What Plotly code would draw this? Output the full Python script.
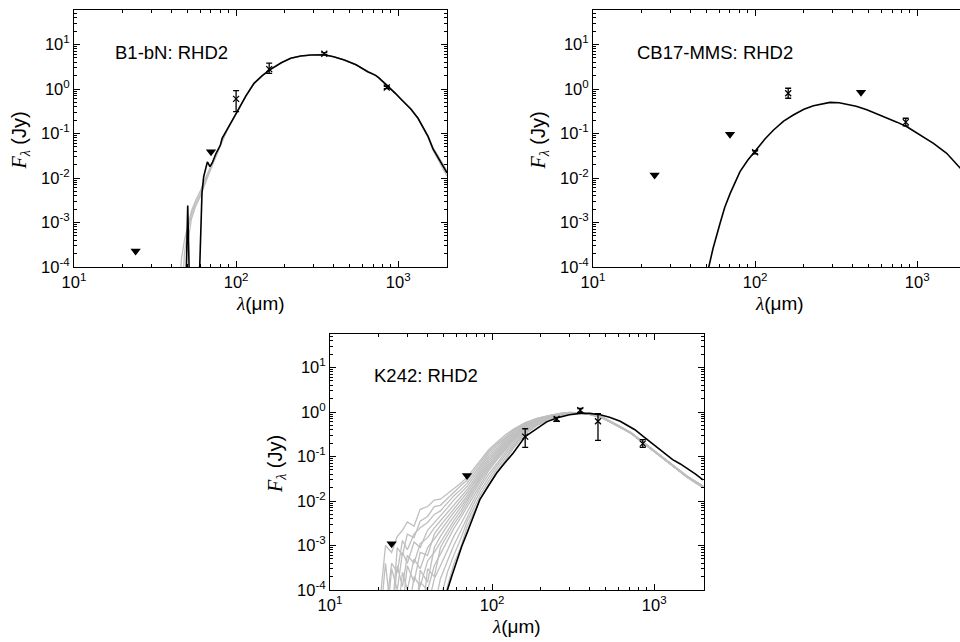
import plotly.graph_objects as go

# ---------------------------------------------------------------
# B1-bN : observed photometry and RHD2 model SEDs
# ---------------------------------------------------------------
b1_det_lam = [100, 160, 350, 850]
b1_det_flux = [0.6, 2.8, 6.2, 1.08]
b1_det_err_hi = [0.32, 1.0, 0.35, 0.06]
b1_det_err_lo = [0.29, 0.55, 0.3, 0.06]
b1_lim_lam = [24, 70]
b1_lim_flux = [2.3e-4, 0.039]

b1_best_lam = [45, 48.7, 50.3, 52.0, 58.5, 59.7, 61.6, 63.1, 65.6, 66.5, 69, 71.3,
               75, 78, 80, 82, 88, 101.6, 115, 129, 145, 164, 190, 217, 250, 289,
               350, 400, 465, 550, 649, 700, 730, 766, 883, 960, 1045, 1200, 1325,
               1420, 1530, 1640, 1850, 2000]
b1_best_flux = [1e-5, 1e-5, 2.4e-3, 1e-5, 1e-5, 1.2e-4, 4.6e-3, 0.0107, 0.019, 0.023,
                0.018, 0.022, 0.035, 0.045, 0.055, 0.078, 0.12, 0.31, 0.7, 1.34, 2.0,
                2.8, 3.9, 4.9, 5.5, 5.8, 5.9, 5.3, 4.5, 3.5, 2.45, 2.2, 2.0, 1.74, 1.09,
                0.8, 0.58, 0.35, 0.22, 0.14, 0.085, 0.045, 0.021, 0.013]

b1_alt_lam = [44, 46, 48, 50, 53, 56, 60, 64, 68, 72, 76, 80, 88, 101.6, 115, 129, 145,
              164, 190, 217, 250, 289, 350, 400, 465, 550, 649, 700, 730, 766, 883, 960,
              1045, 1200, 1325, 1420, 1530, 1640, 1850, 2000]
b1_alt_flux_1 = [1e-5, 1.5e-4, 4e-4, 8e-4, 1.8e-3, 3e-3, 5e-3, 9e-3, 0.015, 0.024,
                 0.036, 0.055, 0.12, 0.31, 0.7, 1.34, 2.0, 2.8, 3.9, 4.9, 5.5, 5.8, 5.9,
                 5.3, 4.5, 3.5, 2.45, 2.2, 2.0, 1.74, 1.09, 0.8, 0.58, 0.35, 0.22, 0.14,
                 0.088, 0.048, 0.023, 0.0145]
b1_alt_flux_2 = [1e-5, 1e-5, 2e-4, 6e-4, 1.5e-3, 2.6e-3, 4.2e-3, 8e-3, 0.014, 0.022,
                 0.034, 0.053, 0.12, 0.31, 0.7, 1.34, 2.0, 2.8, 3.9, 4.9, 5.5, 5.8, 5.9,
                 5.3, 4.5, 3.5, 2.45, 2.2, 2.0, 1.74, 1.09, 0.8, 0.58, 0.35, 0.22, 0.14,
                 0.082, 0.042, 0.019, 0.011]
b1_alt_flux_3 = [1e-5, 1e-5, 1e-5, 3e-4, 1.2e-3, 2.2e-3, 3.8e-3, 7e-3, 0.013, 0.021,
                 0.033, 0.054, 0.12, 0.31, 0.7, 1.34, 2.0, 2.8, 3.9, 4.9, 5.5, 5.8, 5.9,
                 5.3, 4.5, 3.5, 2.45, 2.2, 2.0, 1.74, 1.09, 0.8, 0.58, 0.35, 0.22, 0.14,
                 0.086, 0.046, 0.022, 0.0135]

# ---------------------------------------------------------------
# CB17-MMS
# ---------------------------------------------------------------
cb_det_lam = [100, 160, 850]
cb_det_flux = [0.038, 0.8, 0.18]
cb_det_err_hi = [0.003, 0.24, 0.04]
cb_det_err_lo = [0.003, 0.18, 0.032]
cb_lim_lam = [24, 70, 450]
cb_lim_flux = [0.0117, 0.096, 0.84]

cb_best_lam = [48, 51.5, 55, 60.8, 65, 70.2, 75, 80.7, 90, 100, 115, 130, 150, 172,
               200, 229, 260, 290, 330, 368, 420, 489, 560, 650, 750, 864, 1042, 1260,
               1520, 1840, 2000]
cb_best_flux = [3e-5, 1e-4, 2.6e-4, 9.6e-4, 2.2e-3, 4.5e-3, 8e-3, 0.0139, 0.025, 0.04,
                0.075, 0.12, 0.19, 0.26, 0.35, 0.42, 0.47, 0.5, 0.49, 0.46, 0.41, 0.34,
                0.28, 0.22, 0.18, 0.142, 0.093, 0.06, 0.036, 0.0166, 0.012]

# ---------------------------------------------------------------
# K242
# ---------------------------------------------------------------
k_det_lam = [160, 250, 350, 450, 850]
k_det_flux = [0.28, 0.70, 1.1, 0.62, 0.195]
k_det_err_hi = [0.14, 0.06, 0.1, 0.3, 0.045]
k_det_err_lo = [0.12, 0.08, 0.12, 0.39, 0.035]
k_lim_lam = [24, 70]
k_lim_flux = [1.1e-3, 0.0376]

k_best_lam = [50, 53, 56.5, 60.5, 65, 70, 76, 84, 95, 107, 120, 135, 160, 185, 217,
              253, 300, 350, 400, 464, 530, 617, 700, 760, 859, 950, 1050, 1196, 1300,
              1450, 1592, 1800, 2000]
k_best_flux = [3e-5, 1e-4, 2.1e-4, 4.5e-4, 9.6e-4, 1.9e-3, 4.2e-3, 0.0107, 0.022,
               0.043, 0.072, 0.12, 0.28, 0.4, 0.6, 0.74, 0.87, 0.93, 0.93, 0.87, 0.76,
               0.62, 0.47, 0.40, 0.28, 0.21, 0.155, 0.11, 0.085, 0.068, 0.055, 0.04, 0.03]

k_alt_lam = [20, 22, 24, 26, 28, 30, 33, 36, 40, 44, 48, 53, 58, 64,
             70, 77, 85, 95, 107, 120, 135, 160, 190, 220, 260, 300, 350, 400, 480,
             600, 720, 850, 1050, 1300, 1600, 2000]
k_alt_flux = [
    [3e-5, 1e-3, 7e-4, 1.6e-3, 2.2e-3, 3.4e-3, 2.7e-3, 6.5e-3, 7.5e-3, 0.0105, 0.011,
     0.0145, 0.019, 0.025,
     0.034, 0.052, 0.085, 0.14, 0.21, 0.3, 0.41, 0.58, 0.73, 0.83, 0.93, 0.98, 0.96,
     0.88, 0.73, 0.48, 0.33, 0.205, 0.112, 0.06, 0.034, 0.02],
    [1e-5, 4e-4, 2e-5, 9e-4, 6e-4, 1.8e-3, 1.5e-3, 3.5e-3, 4.5e-3, 7.5e-3, 8e-3,
     0.0115, 0.016, 0.022,
     0.0291, 0.0454, 0.0754, 0.126, 0.192, 0.277, 0.386, 0.56, 0.713, 0.818, 0.921,
     0.976, 0.96, 0.881, 0.732, 0.481, 0.331, 0.2055, 0.1125, 0.0602, 0.0341, 0.0201],
    [1e-5, 3e-5, 4e-4, 2.5e-4, 1.3e-3, 8e-4, 1.8e-3, 2.5e-3, 3.3e-3, 5e-3, 6e-3, 9e-3,
     0.013, 0.018,
     0.0249, 0.0397, 0.0668, 0.113, 0.175, 0.256, 0.364, 0.54, 0.697, 0.806, 0.913,
     0.972, 0.959, 0.882, 0.735, 0.482, 0.332, 0.206, 0.113, 0.0605, 0.0342, 0.0202],
    [1e-5, 1e-5, 3e-4, 1e-4, 7e-4, 4e-4, 1.2e-3, 9e-4, 2.2e-3, 3.2e-3, 4.5e-3, 7e-3,
     0.0105, 0.015,
     0.0211, 0.0343, 0.0587, 0.1, 0.158, 0.235, 0.341, 0.519, 0.68, 0.793, 0.904,
     0.967, 0.957, 0.883, 0.737, 0.483, 0.333, 0.2065, 0.1133, 0.0607, 0.0343, 0.0203],
    [1e-5, 1e-5, 2e-5, 3.5e-4, 1.2e-4, 6e-4, 4e-4, 1.1e-3, 1.5e-3, 2.5e-3, 3.6e-3,
     5.5e-3, 8.5e-3, 0.0125,
     0.0179, 0.0296, 0.0515, 0.0891, 0.143, 0.215, 0.319, 0.499, 0.664, 0.78, 0.896,
     0.962, 0.957, 0.885, 0.74, 0.485, 0.334, 0.207, 0.1135, 0.061, 0.0345, 0.0205],
    [1e-5, 1e-5, 1e-5, 1e-5, 4e-5, 3.5e-4, 1.5e-4, 7e-4, 6e-4, 1.8e-3, 2.8e-3, 4.4e-3,
     6.8e-3, 0.0105,
     0.0153, 0.0259, 0.0457, 0.08, 0.1305, 0.199, 0.3, 0.482, 0.649, 0.769, 0.888,
     0.958, 0.956, 0.886, 0.742, 0.486, 0.335, 0.208, 0.1137, 0.0612, 0.0346, 0.0206],
    [1e-5, 1e-5, 1e-5, 2e-5, 2.5e-4, 1e-4, 5e-4, 3e-4, 9e-4, 1.4e-3, 2.2e-3, 3.5e-3,
     5.5e-3, 8.5e-3,
     0.0131, 0.0226, 0.0405, 0.0718, 0.119, 0.184, 0.282, 0.465, 0.634, 0.758, 0.88,
     0.954, 0.955, 0.887, 0.745, 0.487, 0.336, 0.209, 0.114, 0.0615, 0.0347, 0.0207],
    [1e-5, 1e-5, 1e-5, 1e-5, 1e-5, 1e-5, 1e-5, 2.8e-4, 1.5e-4, 9e-4, 1.6e-3, 2.8e-3,
     4.4e-3, 7e-3,
     0.0114, 0.02, 0.0363, 0.065, 0.109, 0.171, 0.267, 0.45, 0.621, 0.748, 0.873,
     0.95, 0.955, 0.888, 0.747, 0.488, 0.336, 0.209, 0.1145, 0.0617, 0.0348, 0.0208],
    [1e-5, 1e-5, 1e-5, 1e-5, 1e-5, 2e-5, 2e-4, 1.2e-4, 4.5e-4, 7e-4, 1.2e-3, 2.2e-3,
     3.6e-3, 6e-3,
     0.0099, 0.0177, 0.0325, 0.0589, 0.1, 0.159, 0.253, 0.436, 0.608, 0.738, 0.866,
     0.946, 0.954, 0.889, 0.749, 0.49, 0.337, 0.21, 0.115, 0.062, 0.035, 0.021],
    [1e-5, 1e-5, 1e-5, 1e-5, 1e-5, 1e-5, 1e-5, 1e-5, 3e-4, 2e-4, 9e-4, 1.7e-3, 3e-3,
     5e-3,
     0.00848, 0.0155, 0.0288, 0.0528, 0.0913, 0.147, 0.238, 0.421, 0.595, 0.727, 0.858,
     0.941, 0.954, 0.89, 0.751, 0.491, 0.338, 0.2105, 0.115, 0.0622, 0.0351, 0.0211],
    [1e-5, 1e-5, 1e-5, 1e-5, 1e-5, 1e-5, 1e-5, 1.5e-4, 1e-4, 3.5e-4, 6.5e-4, 1.3e-3,
     2.4e-3, 4.2e-3,
     0.00726, 0.0135, 0.0256, 0.0474, 0.0834, 0.136, 0.224, 0.406, 0.582, 0.716, 0.85,
     0.937, 0.953, 0.892, 0.754, 0.492, 0.339, 0.211, 0.1155, 0.0625, 0.0352, 0.0212],
    [1e-5, 1e-5, 1e-5, 1e-5, 1e-5, 1e-5, 1e-5, 1e-5, 4e-5, 1.8e-4, 3.5e-4, 8e-4,
     1.6e-3, 3e-3,
     0.00562, 0.0108, 0.0209, 0.0395, 0.0714, 0.119, 0.203, 0.382, 0.56, 0.7, 0.838,
     0.93, 0.953, 0.894, 0.758, 0.494, 0.34, 0.212, 0.116, 0.063, 0.0354, 0.0214],
    [1e-5, 1e-5, 1e-5, 1e-5, 1e-5, 1e-5, 1e-5, 1e-5, 1e-5, 4e-5, 1.8e-4, 4.5e-4,
     1e-3, 2.1e-3,
     0.00435, 0.0086, 0.0172, 0.033, 0.0612, 0.104, 0.183, 0.36, 0.54, 0.682, 0.825,
     0.923, 0.952, 0.896, 0.762, 0.496, 0.342, 0.213, 0.117, 0.0633, 0.0356, 0.0216],
    [1e-5, 1e-5, 1e-5, 1e-5, 1e-5, 1e-5, 1e-5, 1e-5, 1e-5, 1e-5, 6e-5, 2.5e-4,
     6e-4, 1.4e-3,
     0.00336, 0.0069, 0.0141, 0.0275, 0.0525, 0.0912, 0.166, 0.34, 0.519, 0.667, 0.813,
     0.916, 0.951, 0.898, 0.766, 0.498, 0.343, 0.214, 0.1175, 0.0637, 0.0358, 0.0218],
    [1e-5, 1e-5, 1e-5, 1e-5, 1e-5, 1e-5, 1e-5, 1e-5, 1e-5, 1e-5, 1e-5, 1.2e-4,
     3.8e-4, 9e-4,
     0.0026, 0.0055, 0.0115, 0.023, 0.045, 0.08, 0.15, 0.32, 0.5, 0.65, 0.8, 0.91,
     0.95, 0.9, 0.77, 0.5, 0.345, 0.215, 0.118, 0.064, 0.036, 0.022],
]

# axis tick labels
x_tick_vals = [10, 100, 1000]
x_tick_text = ["10<sup>1</sup>", "10<sup>2</sup>", "10<sup>3</sup>"]
y_tick_vals = [1e-4, 1e-3, 1e-2, 1e-1, 1, 10]
y_tick_text = ["10<sup>-4</sup>", "10<sup>-3</sup>", "10<sup>-2</sup>",
               "10<sup>-1</sup>", "10<sup>0</sup>", "10<sup>1</sup>"]
panel_names = ["B1-bN: RHD2", "CB17-MMS: RHD2", "K242: RHD2"]

# ---------------------------------------------------------------
# figure layout
# ---------------------------------------------------------------
W, H = 960, 642
SANS = "Liberation Sans, Arial, Helvetica, sans-serif"
SERIF = "Liberation Serif, Times New Roman, serif"
GRAY = "#bfbfbf"

# plot boxes in pixels: left, right, top, bottom
boxes = [(74, 447, 10, 267), (593, 960, 10, 267), (330, 704, 334, 590)]
x_min_log, y_min_log = 1.0, -4.0
px_per_decade_x, px_per_decade_y = 162.1, 44.5

x_minor = [m * d for d in (10, 100) for m in range(2, 10)] + [2000]
y_minor = [m * d for d in (1e-4, 1e-3, 1e-2, 1e-1, 1, 10) for m in range(2, 10)]

fig = go.Figure()


def add_panel(idx, best_lam, best_flux, alt_sets, det, lim):
    sfx = "" if idx == 0 else str(idx + 1)
    xa, ya = "x" + sfx, "y" + sfx
    for lam, flux in alt_sets:
        fig.add_trace(go.Scatter(x=lam, y=flux, mode="lines", xaxis=xa, yaxis=ya,
                                 line=dict(color=GRAY, width=1.3), hoverinfo="skip",
                                 showlegend=False))
    fig.add_trace(go.Scatter(x=best_lam, y=best_flux, mode="lines", xaxis=xa, yaxis=ya,
                             line=dict(color="black", width=1.6), showlegend=False))
    d_lam, d_flux, d_hi, d_lo = det
    fig.add_trace(go.Scatter(
        x=d_lam, y=d_flux, mode="markers", xaxis=xa, yaxis=ya, showlegend=False,
        marker=dict(symbol="x-thin", size=6, color="black",
                    line=dict(color="black", width=1.3)),
        error_y=dict(type="data", symmetric=False, array=d_hi, arrayminus=d_lo,
                     color="black", thickness=1.3, width=3)))
    l_lam, l_flux = lim
    fig.add_trace(go.Scatter(x=l_lam, y=l_flux, mode="markers", xaxis=xa, yaxis=ya,
                             showlegend=False,
                             marker=dict(symbol="triangle-down", size=9, color="black")))

    left, right, top, bottom = boxes[idx]
    x_max_log = x_min_log + (right - left) / px_per_decade_x
    y_max_log = y_min_log + (bottom - top) / px_per_decade_y
    common = dict(type="log", showline=True, linecolor="black", linewidth=1,
                  ticks="inside", ticklen=6, tickwidth=1, tickcolor="black",
                  showgrid=False, zeroline=False, automargin=False,
                  tickfont=dict(family=SANS, size=16.5, color="black"))
    mirror_y = "allticks" if idx != 1 else False
    fig.update_layout(**{
        "xaxis" + sfx: dict(common, domain=[left / W, right / W], anchor=ya,
                            range=[x_min_log, x_max_log], mirror="allticks",
                            tickvals=x_tick_vals, ticktext=x_tick_text,
                            minor=dict(tickvals=x_minor, ticks="inside", ticklen=3,
                                       tickwidth=1, tickcolor="black")),
        "yaxis" + sfx: dict(common, domain=[1 - bottom / H, 1 - top / H], anchor=xa,
                            range=[y_min_log, y_max_log], mirror=mirror_y,
                            tickvals=y_tick_vals, ticktext=y_tick_text,
                            minor=dict(tickvals=y_minor, ticks="inside", ticklen=3,
                                       tickwidth=1, tickcolor="black")),
    })

    # panel label, axis titles
    label_x = {0: 113, 1: 635, 2: 372}[idx]
    label_y = {0: 52, 1: 52, 2: 375}[idx]
    fig.add_annotation(x=label_x / W, y=1 - label_y / H, xref="paper", yref="paper",
                       text=panel_names[idx], showarrow=False, xanchor="left",
                       yanchor="middle", font=dict(family=SANS, size=18.5, color="black"))
    x_center = left + 2.301 * px_per_decade_x / 2
    fig.add_annotation(x=x_center / W, y=1 - (bottom + 36) / H, xref="paper", yref="paper",
                       text=f'<span style="font-family:{SERIF}"><i>λ</i></span>(μm)',
                       showarrow=False, xanchor="center", yanchor="middle",
                       font=dict(family=SANS, size=19, color="black"))
    fig.add_annotation(x=(left - 54) / W, y=1 - ((top + bottom) / 2 + 2) / H,
                       xref="paper", yref="paper", textangle=-90,
                       text=(f'<span style="font-family:{SERIF}"><i>F</i></span>'
                             f'<sub><span style="font-family:{SERIF}"><i>λ</i></span></sub>'
                             ' (Jy)'),
                       showarrow=False, xanchor="center", yanchor="middle",
                       font=dict(family=SANS, size=20, color="black"))


add_panel(0, b1_best_lam, b1_best_flux,
          [(b1_alt_lam, b1_alt_flux_1), (b1_alt_lam, b1_alt_flux_2), (b1_alt_lam, b1_alt_flux_3)],
          (b1_det_lam, b1_det_flux, b1_det_err_hi, b1_det_err_lo), (b1_lim_lam, b1_lim_flux))
add_panel(1, cb_best_lam, cb_best_flux, [],
          (cb_det_lam, cb_det_flux, cb_det_err_hi, cb_det_err_lo), (cb_lim_lam, cb_lim_flux))
add_panel(2, k_best_lam, k_best_flux, [(k_alt_lam, f) for f in k_alt_flux],
          (k_det_lam, k_det_flux, k_det_err_hi, k_det_err_lo), (k_lim_lam, k_lim_flux))

fig.update_layout(width=W, height=H, margin=dict(l=0, r=0, t=0, b=0),
                  paper_bgcolor="white", plot_bgcolor="white", showlegend=False,
                  font=dict(family=SANS, color="black"))

fig.write_html("out.html", config={"displayModeBar": False})
